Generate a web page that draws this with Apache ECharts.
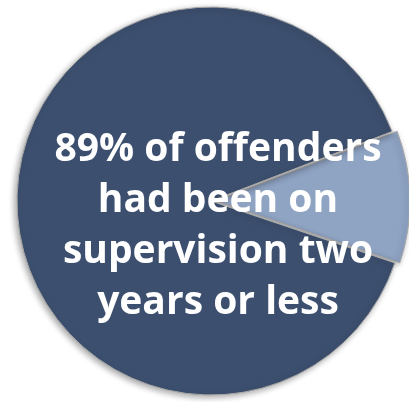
<!DOCTYPE html>
<html>
<head>
<meta charset="utf-8">
<script src="https://cdn.jsdelivr.net/npm/echarts@6/dist/echarts.min.js"></script>
<style>
  html, body { margin: 0; padding: 0; background: #ffffff; }
  #chart { width: 409px; height: 402px; }
</style>
</head>
<body>
<div id="chart"></div>
<script>
// Share of offenders by time spent on supervision
const categories = ['More than two years', 'Two years or less'];
const shares = [11, 89];
const colors = ['#8fa3c3', '#3c4f6e'];
const captionLines = ['89% of offenders', 'had been on', 'supervision two', 'years or less'];

const chart = echarts.init(document.getElementById('chart'), null, { renderer: 'canvas' });

chart.setOption({
  animation: false,
  series: [{
    type: 'pie',
    center: [211, 201],
    radius: [0, 194],
    startAngle: 21,
    clockwise: true,
    selectedMode: 'single',
    selectedOffset: 5,
    label: { show: false },
    labelLine: { show: false },
    emphasis: { disabled: true },
    itemStyle: {
      borderColor: '#a8a8a8',
      borderWidth: 1,
      shadowBlur: 6,
      shadowOffsetX: -2,
      shadowOffsetY: 2,
      shadowColor: 'rgba(0,0,0,0.35)'
    },
    data: categories.map((name, i) => ({
      name: name,
      value: shares[i],
      selected: i === 0,
      itemStyle: { color: colors[i] }
    }))
  }],
  graphic: [{
    type: 'text',
    z: 100,
    x: 218,
    y: 124,
    style: {
      text: captionLines.join('\n'),
      fill: '#ffffff',
      font: 'bold 39px "Open Sans"',
      lineHeight: 51,
      align: 'center',
      verticalAlign: 'top'
    }
  }]
});
</script>
</body>
</html>
